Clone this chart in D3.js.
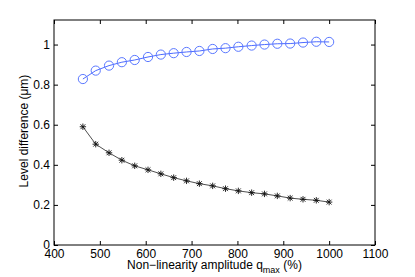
<!DOCTYPE html>
<html><head><meta charset="utf-8">
<script src="https://cdn.jsdelivr.net/npm/d3@7"></script>
<style>html,body{margin:0;padding:0;background:#fff;}svg{display:block;font-family:"Liberation Sans",Arial,sans-serif;}</style>
</head><body>
<svg id="c" width="415" height="277"></svg>
<script>
const qmax = [463, 491, 520, 548, 576, 605, 633, 661, 689, 717, 746, 774, 802, 831, 859, 887, 915, 943, 972, 1000];
const seriesCircle = [0.828, 0.870, 0.895, 0.912, 0.923, 0.938, 0.950, 0.957, 0.963, 0.968, 0.978, 0.982, 0.989, 0.995, 1.000, 1.004, 1.005, 1.010, 1.014, 1.013];
const seriesStar = [0.590, 0.503, 0.460, 0.423, 0.395, 0.375, 0.355, 0.336, 0.320, 0.306, 0.295, 0.281, 0.270, 0.261, 0.255, 0.245, 0.234, 0.228, 0.223, 0.214];
const xTicks = [400, 500, 600, 700, 800, 900, 1000, 1100];
const yTicks = [0, 0.2, 0.4, 0.6, 0.8, 1];

const svg = d3.select("#c");
const L = 54, R = 375, T = 20, B = 245;
const x = d3.scaleLinear().domain([400, 1100]).range([L, R]);
const y = d3.scaleLinear().domain([0, 1.1225]).range([B, T]);

const fs = 12;
svg.append("rect").attr("x", L).attr("y", T).attr("width", R - L).attr("height", B - T)
  .attr("fill", "none").attr("stroke", "#000").attr("stroke-width", 1);

const tk = 4;
const gx = svg.append("g").attr("transform", `translate(0,${B})`)
  .call(d3.axisBottom(x).tickValues(xTicks).tickSizeInner(-tk).tickSizeOuter(0).tickPadding(4).tickFormat(d3.format("d")));
const gxt = svg.append("g").attr("transform", `translate(0,${T})`)
  .call(d3.axisTop(x).tickValues(xTicks).tickSizeInner(-tk).tickSizeOuter(0).tickFormat(""));
const gy = svg.append("g").attr("transform", `translate(${L},0)`)
  .call(d3.axisLeft(y).tickValues(yTicks).tickSizeInner(-tk).tickSizeOuter(0).tickPadding(4).tickFormat(d => d === 0 ? "0" : d === 1 ? "1" : d3.format(".1f")(d)));
const gyr = svg.append("g").attr("transform", `translate(${R},0)`)
  .call(d3.axisRight(y).tickValues(yTicks).tickSizeInner(-tk).tickSizeOuter(0).tickFormat(""));
[gx, gxt, gy, gyr].forEach(g => {
  g.select(".domain").remove();
  g.selectAll("line").attr("stroke", "#000");
  g.selectAll("text").attr("font-size", fs).attr("fill", "#000").attr("font-family", "Liberation Sans, Arial, sans-serif");
});

// lines
const line = d3.line().x((d, i) => x(qmax[i])).y(d => y(d));
svg.append("path").datum(seriesCircle).attr("d", line).attr("fill", "none").attr("stroke", "#4d6bff").attr("stroke-width", 1);
svg.append("path").datum(seriesStar).attr("d", line).attr("fill", "none").attr("stroke", "#222").attr("stroke-width", 0.8);

// circle markers
svg.append("g").selectAll("circle").data(seriesCircle).join("circle")
  .attr("cx", (d, i) => x(qmax[i])).attr("cy", d => y(d)).attr("r", 4.6)
  .attr("fill", "none").attr("stroke", "#5a78ff").attr("stroke-width", 1);

// star markers
const s = 3.2;
const starG = svg.append("g").selectAll("g").data(seriesStar).join("g")
  .attr("transform", (d, i) => `translate(${x(qmax[i])},${y(d)})`);
[[0, -s, 0, s], [-s, 0, s, 0], [-s * 0.75, -s * 0.75, s * 0.75, s * 0.75], [-s * 0.75, s * 0.75, s * 0.75, -s * 0.75]].forEach(c => {
  starG.append("line").attr("x1", c[0]).attr("y1", c[1]).attr("x2", c[2]).attr("y2", c[3])
    .attr("stroke", "#111").attr("stroke-width", 0.9);
});

// x label
const xl = svg.append("text").attr("x", (L + R) / 2).attr("y", 269).attr("text-anchor", "middle")
  .attr("font-size", fs).attr("fill", "#000");
xl.append("tspan").text("Non\u2212linearity amplitude q");
xl.append("tspan").attr("font-size", 9).attr("dy", 3.5).text("max");
xl.append("tspan").attr("dy", -3.5).text(" (%)");

// y label
svg.append("text").attr("transform", `translate(28,${(T + B) / 2 - 1.5}) rotate(-90)`).attr("text-anchor", "middle")
  .attr("font-size", fs).attr("fill", "#000").text("Level difference (\u03bcm)");
</script>
</body></html>
